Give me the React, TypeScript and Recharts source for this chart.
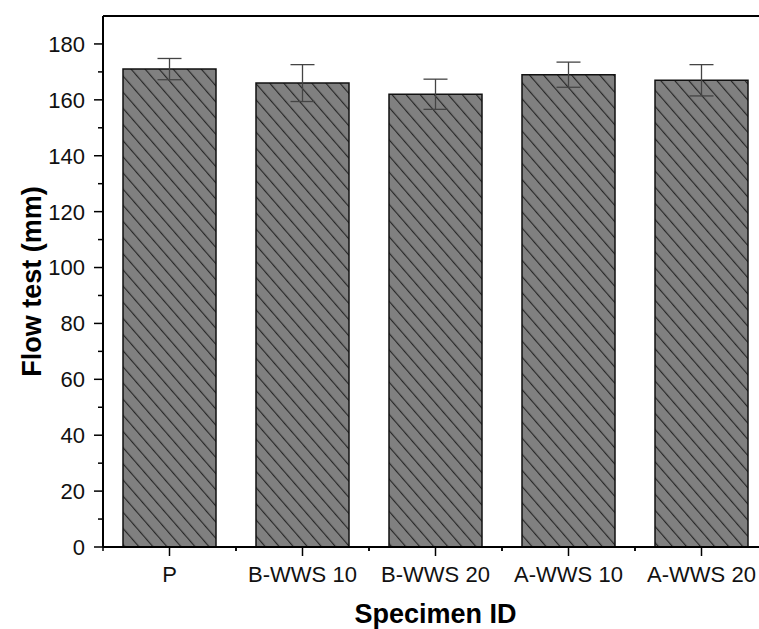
import { BarChart, Bar, XAxis, YAxis, ErrorBar, ReferenceLine } from 'recharts';

const categories = ['P', 'B-WWS 10', 'B-WWS 20', 'A-WWS 10', 'A-WWS 20'];
const flowValues = [171, 166, 162, 169, 167];
const flowErrors = [3.8, 6.6, 5.4, 4.5, 5.6];
const yTicks = [0, 10, 20, 30, 40, 50, 60, 70, 80, 90, 100, 110, 120, 130, 140, 150, 160, 170, 180];
const yLabelTicks = [0, 20, 40, 60, 80, 100, 120, 140, 160, 180];

const FONT = '"Liberation Sans", Arial, sans-serif';
const CHART_W = 790;
const CHART_H = 629;
const MARGIN = { top: 16, right: 22, left: 0, bottom: 0 };
const Y_AXIS_W = 103;
const BAND = (CHART_W - MARGIN.right - MARGIN.left - Y_AXIS_W) / categories.length;
const HATCH = 10.6;

const chartData = categories.map((name, i) => ({
  name,
  value: flowValues[i],
  err: flowErrors[i],
}));

function XTick(props: any) {
  const { x, y, payload } = props;
  const half = BAND / 2;
  return (
    <g>
      <line x1={x} y1={y} x2={x} y2={y + 9} stroke="#000" strokeWidth={1.5} />
      <line x1={x - half} y1={y} x2={x - half} y2={y + 4} stroke="#000" strokeWidth={1.5} />
      <line x1={x + half} y1={y} x2={x + half} y2={y + 4} stroke="#000" strokeWidth={1.5} />
      <text x={x} y={y + 35} textAnchor="middle" fontSize={22} fontFamily={FONT} fill="#111">
        {payload.value}
      </text>
    </g>
  );
}

function YTick(props: any) {
  const { x, y, payload } = props;
  const major = yLabelTicks.includes(payload.value);
  return (
    <g>
      <line x1={x - (major ? 9 : 5)} y1={y} x2={x} y2={y} stroke="#000" strokeWidth={1.5} />
      {major && (
        <text x={x - 18} y={y} dy="0.36em" textAnchor="end" fontSize={22} fontFamily={FONT} fill="#111">
          {payload.value}
        </text>
      )}
    </g>
  );
}

function YLabel() {
  const cx = 41;
  const cy = MARGIN.top + (CHART_H - MARGIN.top - 82) / 2;
  return (
    <text
      x={cx}
      y={cy}
      transform={`rotate(-90, ${cx}, ${cy})`}
      textAnchor="middle"
      fontSize={27}
      fontWeight="bold"
      fontFamily={FONT}
      fill="#000"
    >
      Flow test (mm)
    </text>
  );
}

export default function App() {
  return (
    <div
      style={{
        position: 'absolute',
        left: 0,
        top: 0,
        width: 759,
        height: 629,
        overflow: 'hidden',
        background: '#fff',
      }}
    >
      <BarChart width={CHART_W} height={CHART_H} data={chartData} margin={MARGIN} barSize={93}>
        <defs>
          <pattern
            id="hatch"
            patternUnits="userSpaceOnUse"
            width={HATCH}
            height={HATCH}
            patternTransform="rotate(-41)"
          >
            <rect width={HATCH} height={HATCH} fill="#808080" />
            <line x1={0.6} y1={0} x2={0.6} y2={HATCH} stroke="#222" strokeWidth={1.1} />
          </pattern>
        </defs>
        <XAxis
          dataKey="name"
          height={82}
          tickSize={0}
          tickMargin={0}
          tickLine={false}
          tick={<XTick />}
          interval={0}
          axisLine={{ stroke: '#000', strokeWidth: 2 }}
          label={{
            value: 'Specimen ID',
            position: 'insideBottom',
            offset: 6,
            style: { fontSize: 27, fontWeight: 'bold', fontFamily: FONT, fill: '#000' },
          }}
        />
        <YAxis
          width={Y_AXIS_W}
          domain={[0, 190]}
          ticks={yTicks}
          interval={0}
          tickSize={0}
          tickMargin={0}
          tickLine={false}
          tick={<YTick />}
          axisLine={{ stroke: '#000', strokeWidth: 2 }}
          label={<YLabel />}
        />
        <ReferenceLine y={190} stroke="#000" strokeWidth={2} />
        <Bar dataKey="value" fill="url(#hatch)" stroke="#111" strokeWidth={1.5} isAnimationActive={false}>
          <ErrorBar dataKey="err" width={12} stroke="#444" strokeWidth={1.3} direction="y" />
        </Bar>
      </BarChart>
    </div>
  );
}
